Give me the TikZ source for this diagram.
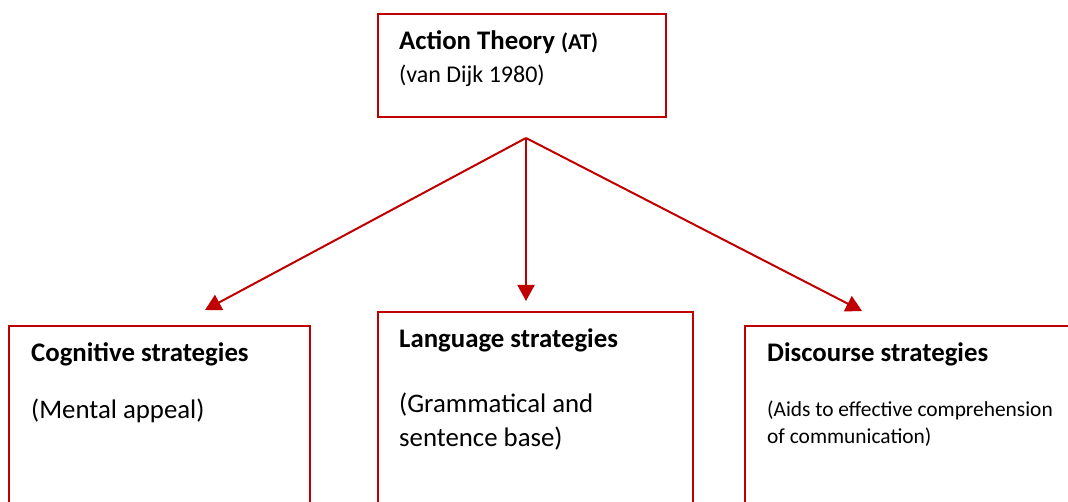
\documentclass[tikz,border=0pt]{standalone}
\usepackage{fontspec}
\setmainfont{Carlito}
\usetikzlibrary{arrows.meta, positioning}
\definecolor{boxred}{HTML}{C00000}
\tikzstyle{strategy} = [rectangle, draw=boxred, line width=2pt, inner sep=0pt]
\tikzstyle{heading} = [anchor=base west, inner sep=0pt, font=\fontsize{26.8}{32}\selectfont\bfseries]
\tikzstyle{note} = [anchor=base west, inner sep=0pt, font=\fontsize{26.8}{32}\selectfont]
\tikzstyle{smallnote} = [anchor=base west, inner sep=0pt, font=\fontsize{21.4}{26}\selectfont]
\tikzstyle{branch} = [draw=boxred, line width=2pt, -{Triangle[length=16pt,width=17pt]}]

\begin{document}
\begin{tikzpicture}[x=1pt, y=-1pt]
\useasboundingbox (0,0) rectangle (1068,502);

% Top box (action theory)
\node (theory) [strategy, minimum width=288pt, minimum height=103pt] at (522,65.5) {};
\node (theorytitle) [heading] at (399,50) {Action Theory {\fontsize{22.5}{27}\selectfont (AT)}};
\node (theorysrc) [note, font=\fontsize{24}{29}\selectfont] at (399,83) {(van Dijk 1980)};

% Strategy boxes
\node (cognitive) [strategy, minimum width=301pt, minimum height=194pt] at (159.5,423) {};
\node (language) [strategy, minimum width=315pt, minimum height=208pt] at (535.5,416) {};
\node (discourse) [strategy, minimum width=335pt, minimum height=194pt] at (912.5,423) {};

\node (cogtitle) [heading] at (31,362) {Cognitive strategies};
\node (cognote) [note] at (31,418) {(Mental appeal)};
\node (langtitle) [heading] at (399,348) {Language strategies};
\node (langnote) [note] at (399,412) {(Grammatical and};
\node (langnotetwo) [note] at (399,446) {sentence base)};
\node (disctitle) [heading] at (767,362) {Discourse strategies};
\node (discnote) [smallnote] at (767,417) {(Aids to effective comprehension};
\node (discnotetwo) [smallnote] at (767,443) {of communication)};

% Branching arrows
\coordinate (split) at (526,138);
\draw [branch] (split) -- ([xshift=45.5pt, yshift=15pt]cognitive.north);
\draw [branch] (split) -- ([yshift=10pt]split |- language.north);
\draw [branch] (split) -- ([xshift=-50.5pt, yshift=14pt]discourse.north);

\end{tikzpicture}
\end{document}
